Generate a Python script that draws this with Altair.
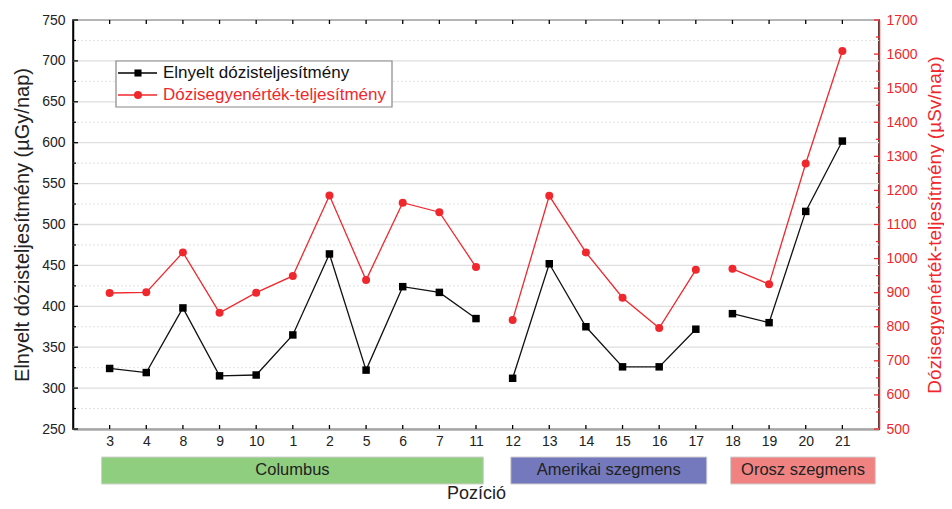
import altair as alt
import pandas as pd

# ---- data ----
positions = ["3", "4", "8", "9", "10", "1", "2", "5", "6", "7", "11",
             "12", "13", "14", "15", "16", "17", "18", "19", "20", "21"]
absorbed = [324, 319, 398, 315, 316, 365, 464, 322, 424, 417, 385,
            312, 452, 375, 326, 326, 372, 391, 380, 516, 602]
equivalent = [899, 901, 1018, 841, 900, 949, 1185, 937, 1164, 1136, 975,
              820, 1184, 1018, 885, 796, 967, 970, 925, 1279, 1609]
segment_of = ["Columbus"] * 11 + ["Amerikai szegmens"] * 6 + ["Orosz szegmens"] * 4

seg_labels = ["Columbus", "Amerikai szegmens", "Orosz szegmens"]
seg_start = [-0.22, 10.95, 16.95]
seg_end = [10.2, 16.3, 20.9]
seg_colors = ["#8fcd7f", "#7479bd", "#f08282"]

left_major = list(range(250, 751, 50))
left_minor = list(range(275, 751, 50))
right_major = list(range(500, 1701, 100))
right_minor = list(range(550, 1701, 100))

legend_names = ["Elnyelt dózisteljesítmény", "Dózisegyenérték-teljesítmény"]

W, H = 806, 409
FONT = "Liberation Sans"
RED = "#f0282d"

df = pd.DataFrame({"idx": list(range(len(positions))), "pos": positions,
                   "absorbed": absorbed, "equiv": equivalent, "seg": segment_of})
segdf = pd.DataFrame({"name": seg_labels, "s": seg_start, "e": seg_end})
segdf["mid"] = (segdf["s"] + segdf["e"]) / 2

label_expr = "[" + ",".join("'" + p + "'" for p in positions) + "][datum.value]"
xscale = alt.Scale(domain=[-1, 21], nice=False, zero=False)
lscale = alt.Scale(domain=[250, 750], nice=False, zero=False)
rscale = alt.Scale(domain=[500, 1700], nice=False, zero=False)

x_axis = alt.Axis(values=list(range(len(positions))), labelExpr=label_expr, ticks=False,
                  grid=False, domainColor="black", domainWidth=1.5, labelFontSize=14,
                  labelColor="#222", labelPadding=5, labelFont=FONT,
                  title="Pozíció", titleFontSize=18, titleFont=FONT,
                  titleFontWeight="normal", titlePadding=36, titleColor="#222")
l_axis = alt.Axis(values=left_major, ticks=False, grid=False, domainColor="black",
                  domainWidth=1.5, labelFontSize=14, labelColor="#222", labelFont=FONT,
                  labelPadding=8, title="Elnyelt dózisteljesítmény (µGy/nap)",
                  titleFontSize=20, titleFont=FONT, titleFontWeight="normal",
                  titleColor="#222", titlePadding=9)
r_axis = alt.Axis(orient="right", values=right_major, format="d", ticks=False, grid=False,
                  domainColor=RED, domainWidth=1.5, labelFontSize=14, labelColor=RED,
                  labelFont=FONT, labelPadding=7,
                  title="Dózisegyenérték-teljesítmény (µSv/nap)", titleAngle=270,
                  titleBaseline="top",
                  titleFontSize=19, titleFont=FONT, titleFontWeight="normal",
                  titleColor=RED, titlePadding=8)

def XQ(field):
    return alt.X(field, scale=xscale, axis=x_axis)

def YL(field):
    return alt.Y(field, scale=lscale, axis=l_axis)

def YR(field):
    return alt.Y(field, scale=rscale, axis=r_axis)

# ---------- left (black) layer ----------
lmaj = pd.DataFrame({"v": left_major})
lmin = pd.DataFrame({"v": left_minor})

grid_major = alt.Chart(lmaj).mark_rule(color="#dedede", strokeWidth=1.3).encode(
    y=YL("v:Q"), x=alt.value(0), x2=alt.value(W))
grid_minor = alt.Chart(lmin).mark_rule(color="#e2e2e2", strokeWidth=1, strokeDash=[2, 2]).encode(
    y=YL("v:Q"), x=alt.value(0), x2=alt.value(W))
ltick_major = alt.Chart(lmaj).mark_rule(color="black", strokeWidth=1.3).encode(
    y=YL("v:Q"), x=alt.value(0), x2=alt.value(5))
ltick_minor = alt.Chart(lmin).mark_rule(color="black", strokeWidth=1.3).encode(
    y=YL("v:Q"), x=alt.value(0), x2=alt.value(3))

top_ticks = alt.Chart(df).mark_rule(color="black", strokeWidth=1.3).encode(
    x=XQ("idx:Q"), y=alt.value(0), y2=alt.value(4))
bot_ticks = alt.Chart(df).mark_rule(color="black", strokeWidth=1.3).encode(
    x=XQ("idx:Q"), y=alt.value(H - 4), y2=alt.value(H))

boxes = alt.Chart(segdf).mark_rect(stroke="#d0d0d0", strokeWidth=1).encode(
    x=XQ("s:Q"), x2="e:Q",
    y=alt.value(H + 28), y2=alt.value(H + 55),
    fill=alt.Fill("name:N", scale=alt.Scale(domain=seg_labels, range=seg_colors), legend=None))
box_text = alt.Chart(segdf).mark_text(font=FONT, fontSize=16.5, color="#222").encode(
    x=XQ("mid:Q"), y=alt.value(H + 41), text="name:N")

black_line = alt.Chart(df).mark_line(color="#111", strokeWidth=1.3).encode(
    x=XQ("idx:Q"), y=YL("absorbed:Q"), detail="seg:N")
black_pts = alt.Chart(df).mark_point(shape="square", filled=True, color="black", size=56, opacity=1).encode(
    x=XQ("idx:Q"), y=YL("absorbed:Q"))

left_layer = alt.layer(grid_major, grid_minor, boxes, box_text, ltick_major, ltick_minor,
                       top_ticks, bot_ticks, black_line, black_pts)

# ---------- right (red) layer ----------
rmaj = pd.DataFrame({"v": right_major})
rmin = pd.DataFrame({"v": right_minor})
rtick_major = alt.Chart(rmaj).mark_rule(color=RED, strokeWidth=1.3).encode(
    y=YR("v:Q"), x=alt.value(W - 5), x2=alt.value(W))
rtick_minor = alt.Chart(rmin).mark_rule(color=RED, strokeWidth=1.3).encode(
    y=YR("v:Q"), x=alt.value(W - 3), x2=alt.value(W))

red_line = alt.Chart(df).mark_line(color=RED, strokeWidth=1.3).encode(
    x=XQ("idx:Q"), y=YR("equiv:Q"), detail="seg:N")
red_pts = alt.Chart(df).mark_point(shape="circle", filled=True, color=RED, size=64, opacity=1).encode(
    x=XQ("idx:Q"), y=YR("equiv:Q"))

# manual legend (pixel-placed annotation)
one = pd.DataFrame({"a": [0]})
leg_box = alt.Chart(one).mark_rect(fill="white", stroke="#888", strokeWidth=1.2).encode(
    x=alt.value(43), x2=alt.value(319), y=alt.value(41), y2=alt.value(87))
leg_l1 = alt.Chart(one).mark_rule(color="black", strokeWidth=1.3).encode(
    x=alt.value(45), x2=alt.value(84), y=alt.value(53))
leg_l2 = alt.Chart(one).mark_rule(color=RED, strokeWidth=1.3).encode(
    x=alt.value(45), x2=alt.value(84), y=alt.value(75))
leg_p1 = alt.Chart(one).mark_point(shape="square", filled=True, color="black", size=50, opacity=1).encode(
    x=alt.value(65), y=alt.value(53))
leg_p2 = alt.Chart(one).mark_point(shape="circle", filled=True, color=RED, size=64, opacity=1).encode(
    x=alt.value(65), y=alt.value(75))
leg_t1 = alt.Chart(one).mark_text(align="left", baseline="middle", font=FONT, fontSize=17,
                                  color="#111", text=legend_names[0]).encode(
    x=alt.value(90), y=alt.value(53))
leg_t2 = alt.Chart(one).mark_text(align="left", baseline="middle", font=FONT, fontSize=17,
                                  color=RED, text=legend_names[1]).encode(
    x=alt.value(90), y=alt.value(75))

right_layer = alt.layer(rtick_major, rtick_minor, red_line, red_pts,
                        leg_box, leg_l1, leg_l2, leg_p1, leg_p2, leg_t1, leg_t2)

chart = alt.layer(left_layer, right_layer).resolve_scale(
    y="independent"
).properties(
    width=W, height=H,
    padding={"left": 65, "top": 12, "right": 65, "bottom": 72},
    autosize=alt.AutoSizeParams(type="none"),
).configure_view(stroke="black", strokeWidth=1.5)

chart.save("out.html", embed_options={"renderer": "svg", "actions": False})
